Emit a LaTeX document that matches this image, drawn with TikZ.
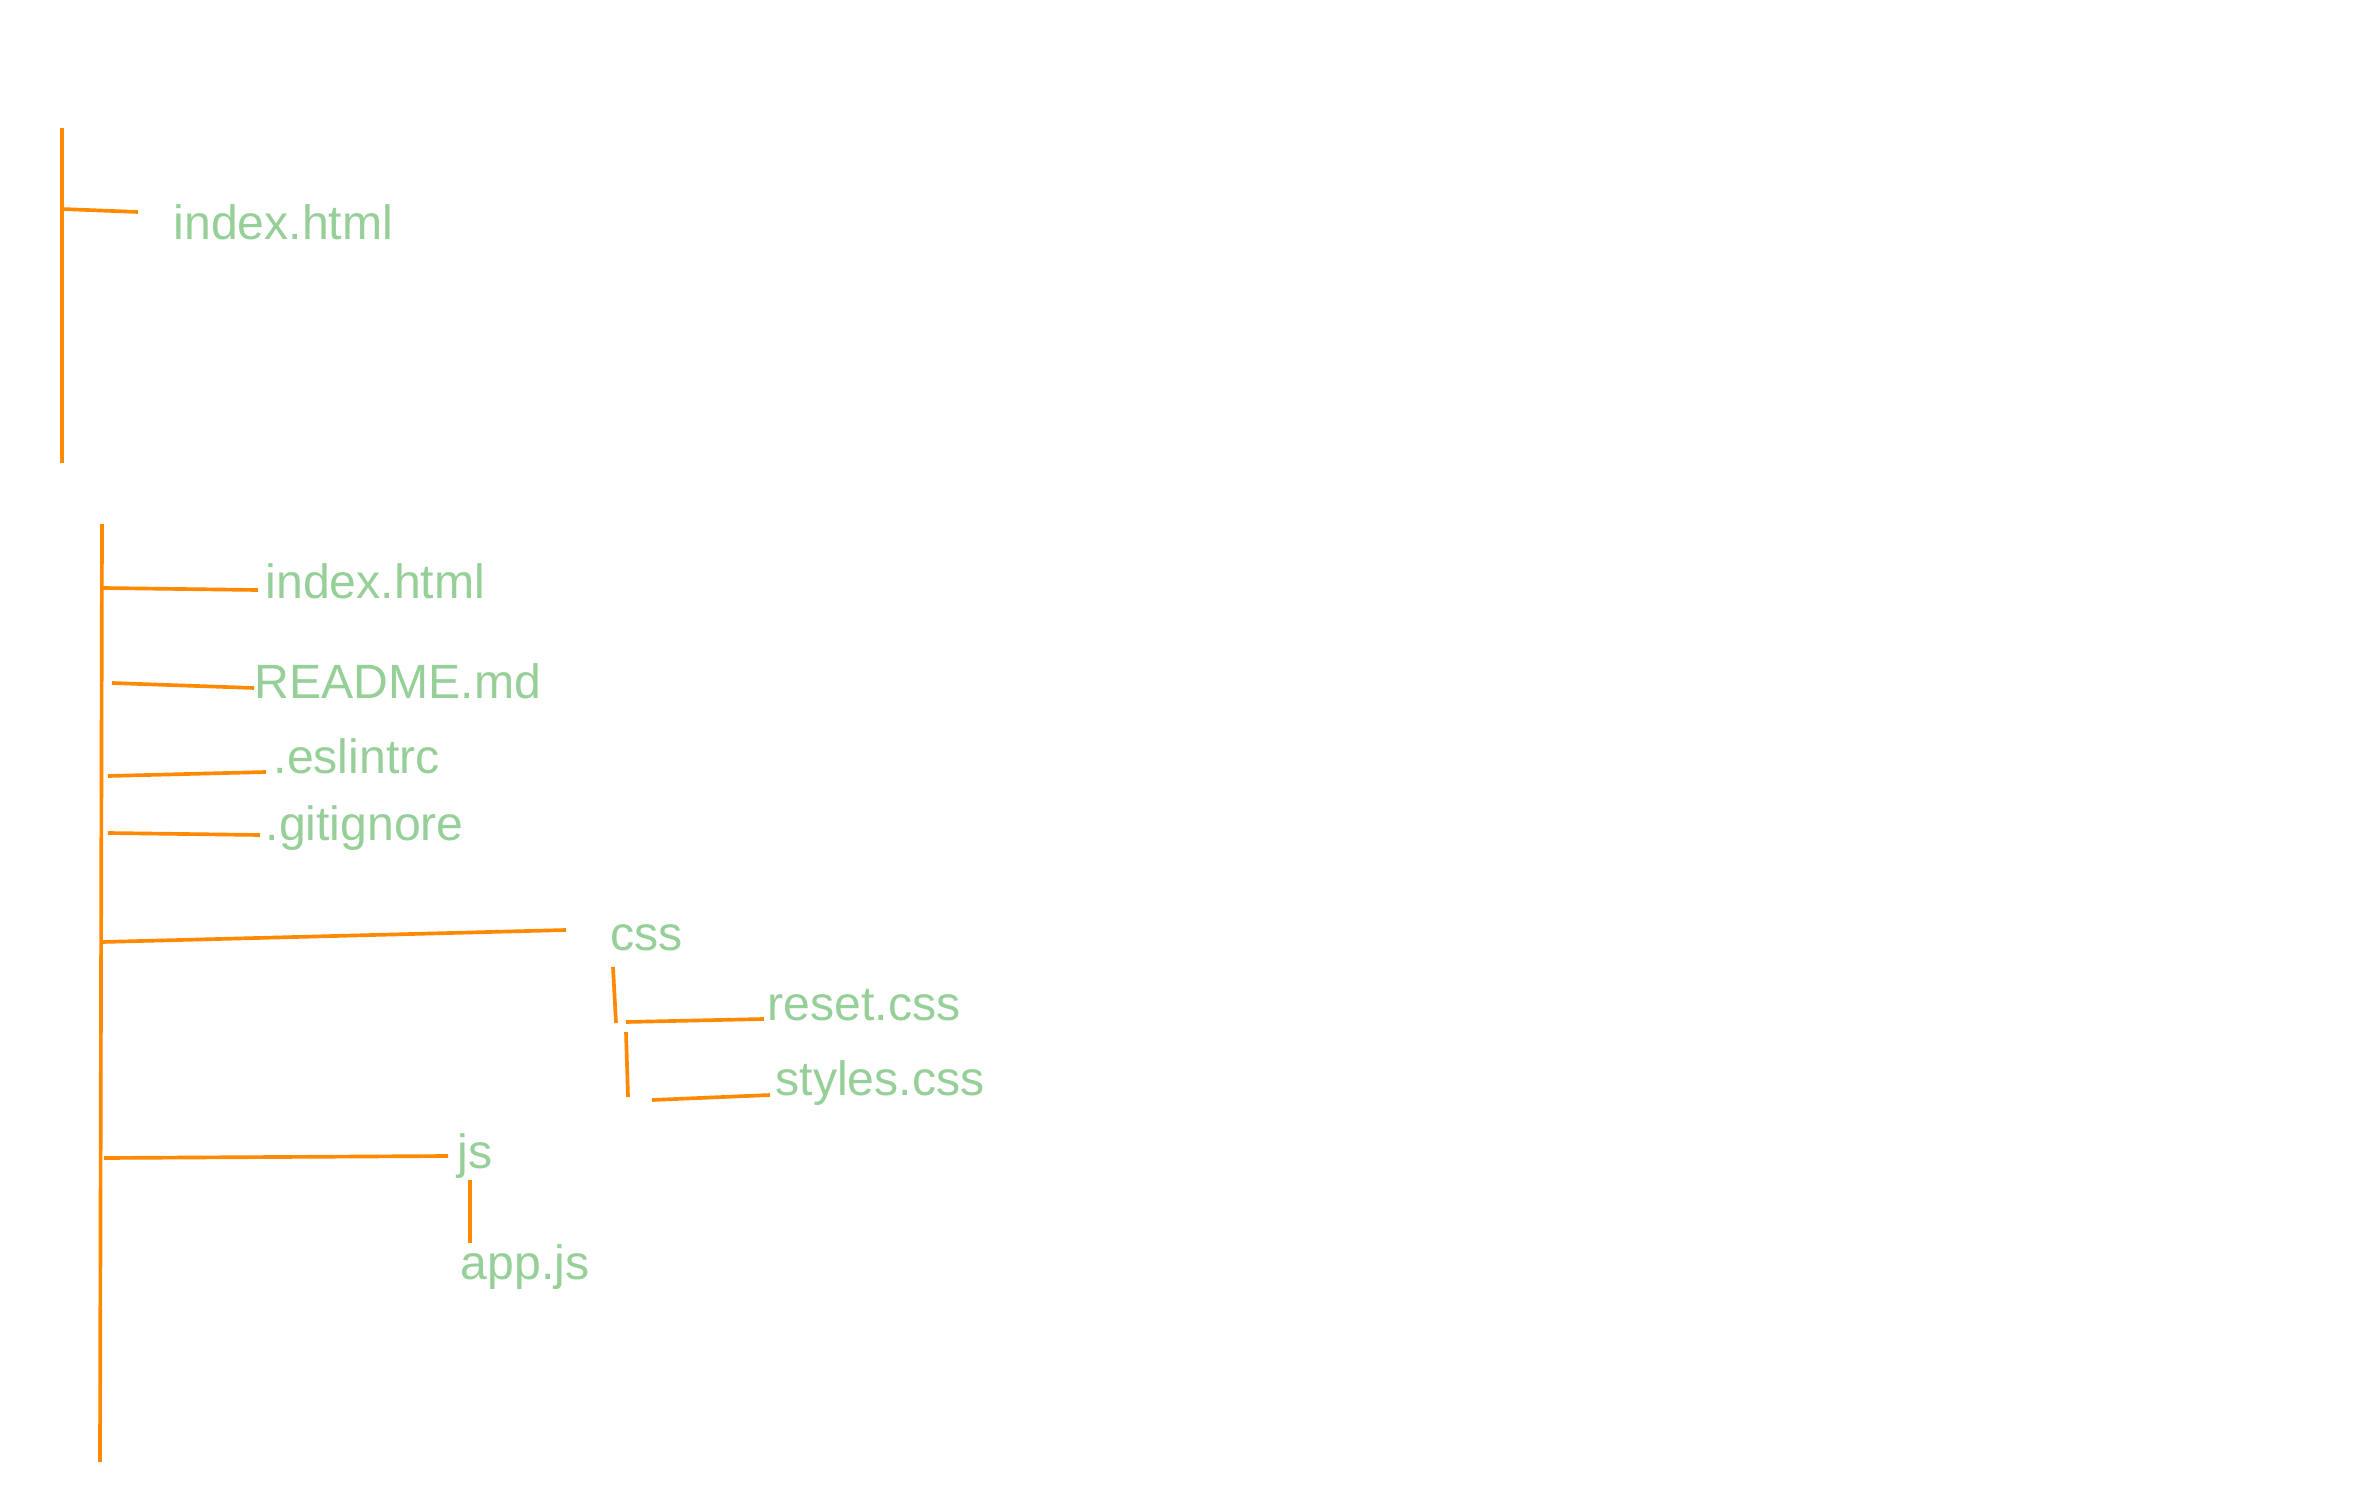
\documentclass[tikz,border=0pt]{standalone}
\usepackage{fontspec}
\setmainfont{Liberation Sans}
\definecolor{treeorange}{RGB}{255,137,0}
\definecolor{filegreen}{RGB}{150,207,152}
\begin{document}
\begin{tikzpicture}[x=0.3pt,y=-0.3pt,
  branch/.style={draw=treeorange,line width=1.1pt},
  file/.style={text=filegreen,font=\fontsize{14.45pt}{16pt}\selectfont,inner sep=0pt,anchor=base west}]
\fill[white] (0,0) rectangle (2370,1510);
\useasboundingbox (0,0) rectangle (2370,1510);

% ---- first tree ----
\coordinate (a1top) at (62,128);
\coordinate (a1bot) at (62,463);
\coordinate (a1b0) at (62,209);
\coordinate (a1b1) at (138,212);
\node[file] (idxA) at (173,240) {index.html};
\draw[branch] (a1top) -- (a1bot);
\draw[branch] (a1b0) -- (a1b1);

% ---- second tree ----
\coordinate (mtop) at (102,524);
\coordinate (mbot) at (100,1462);
\draw[branch] (mtop) -- (mbot);

\node[file] (idxB) at (265,598) {index.html};
\node[file] (readme) at (254,698) {README.md};
\node[file] (eslint) at (273,773) {.eslintrc};
\node[file] (gitig) at (265,840) {.gitignore};
\node[file] (css) at (610,950) {css};
\node[file] (reset) at (767,1020) {reset.css};
\node[file] (styles) at (775,1095) {styles.css};
\node[file] (js) at (457,1168) {js};
\node[file] (appjs) at (460,1279) {app.js};

\coordinate (i0) at (103,588);  \coordinate (i1) at (258,590);
\coordinate (r0) at (112,683);  \coordinate (r1) at (254,688);
\coordinate (e0) at (108,776);  \coordinate (e1) at (266,772);
\coordinate (g0) at (108,833);  \coordinate (g1) at (260,835);
\coordinate (c0) at (102,942);  \coordinate (c1) at (566,930);
\coordinate (cv0) at (613,967); \coordinate (cv1) at (616,1023);
\coordinate (rs0) at (626,1022); \coordinate (rs1) at (764,1019);
\coordinate (cw0) at (626,1032); \coordinate (cw1) at (628,1097);
\coordinate (st0) at (652,1100); \coordinate (st1) at (770,1095);
\coordinate (j0) at (104,1158); \coordinate (j1) at (448,1156);
\coordinate (jv0) at (470,1180); \coordinate (jv1) at (470,1243);

\draw[branch] (i0) -- (i1);
\draw[branch] (r0) -- (r1);
\draw[branch] (e0) -- (e1);
\draw[branch] (g0) -- (g1);
\draw[branch] (c0) -- (c1);
\draw[branch] (cv0) -- (cv1);
\draw[branch] (rs0) -- (rs1);
\draw[branch] (cw0) -- (cw1);
\draw[branch] (st0) -- (st1);
\draw[branch] (j0) -- (j1);
\draw[branch] (jv0) -- (jv1);
\end{tikzpicture}
\end{document}
